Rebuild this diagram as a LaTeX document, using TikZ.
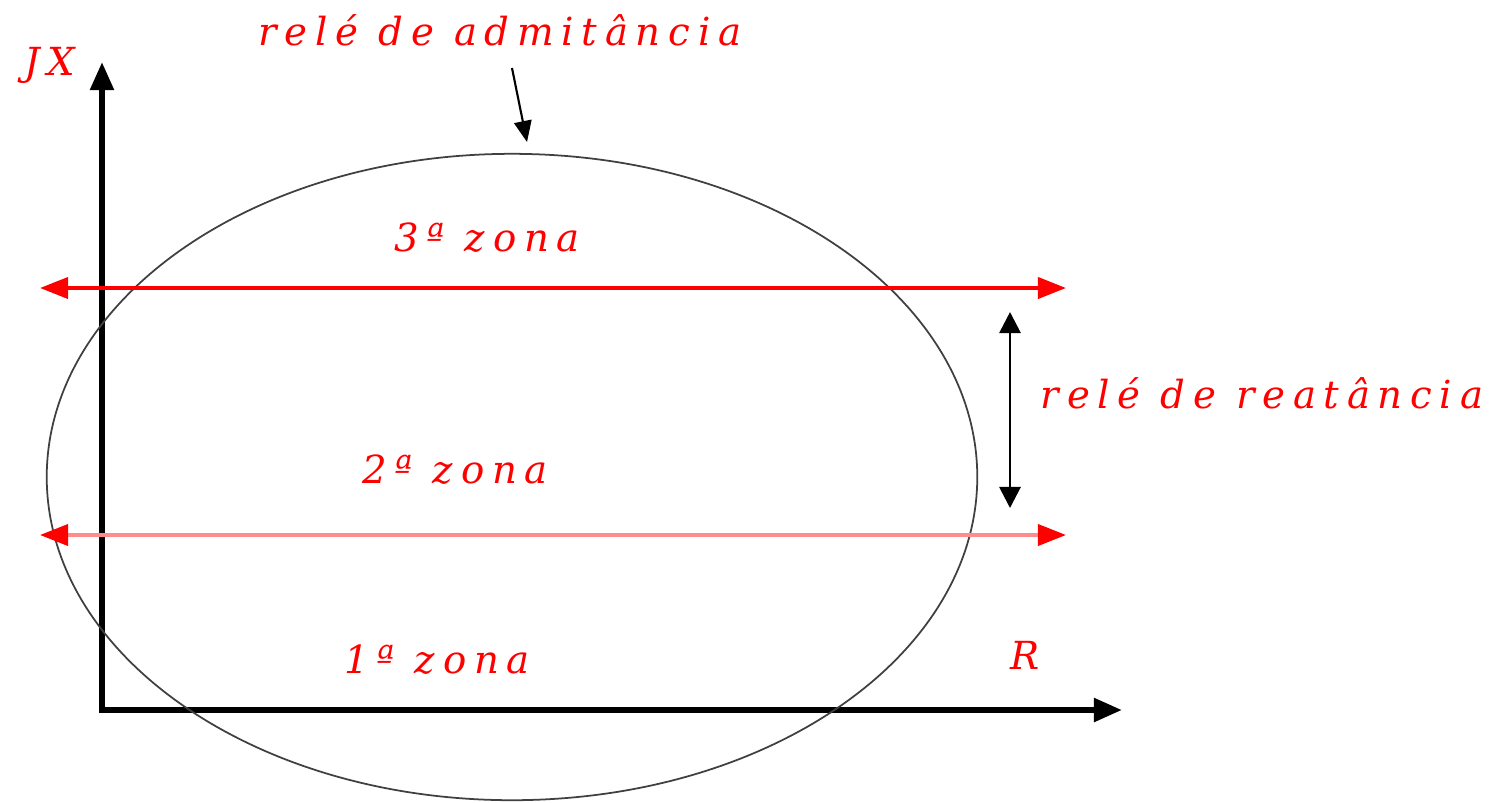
\documentclass[tikz,border=0pt]{standalone}
\usepackage{fontspec}
\newfontfamily\relayfont[LetterSpace=20]{DejaVu Serif}
\usepackage{tikz}
\usetikzlibrary{shapes.geometric, arrows.meta, positioning}
\tikzset{
  axis/.style={
    line width=1.7pt, black, line join=miter,
    {Triangle[length=8pt,width=6.5pt]}-{Triangle[length=8pt,width=6.5pt]}
  },
  zoneline/.style={
    line width=1.1pt,
    {Triangle[length=8pt,width=6pt,color=red]}-{Triangle[length=8pt,width=6pt,color=red]}
  },
  pointer/.style={line width=0.6pt, black, -{Triangle[length=6pt,width=5pt]}},
  span/.style={line width=0.8pt, black, {Triangle[length=6pt,width=6pt]}-{Triangle[length=6pt,width=6pt]}},
  relaylbl/.style={text=red, inner sep=0pt, font=\relayfont\itshape\fontsize{11}{13}\selectfont},
}

\begin{document}
\begin{tikzpicture}[x=0.01cm, y=-0.01cm]
  \useasboundingbox (0,0) rectangle (1491,802);

  % eixos R-X
  \coordinate (O)    at (102,710);
  \coordinate (ytip) at (102,62);
  \coordinate (xtip) at (1122,710);
  \draw [axis] (ytip) -- (O) -- (xtip);

  % circulo do rele de admitancia
  \node (adm) [ellipse, draw=black!75, line width=0.5pt,
               minimum width=9.3cm, minimum height=6.46cm] at (512,477) {};

  % retas do rele de reatancia
  \coordinate (z3l) at (40,288);
  \coordinate (z3r) at (1066,288);
  \coordinate (z2l) at (40,535);
  \coordinate (z2r) at (1066,535);
  \draw [zoneline, red]    (z3l) -- (z3r);
  \draw [zoneline, red!45] (z2l) -- (z2r);

  \node (admlbl)  [relaylbl] at (500,30)   {relé de admitância};
  \node (jx)      [relaylbl] at (50,65)    {JX};
  \node (z3)      [relaylbl] at (487,238)  {3ª zona};
  \node (z2)      [relaylbl] at (455,470)  {2ª zona};
  \node (z1)      [relaylbl] at (437,660)  {1ª zona};
  \node (rlbl)    [relaylbl] at (1025,655) {R};
  \node (reatlbl) [relaylbl] at (1262,393) {relé de reatância};

  \coordinate (ptrs) at (512,68);
  \coordinate (ptre) at (527,142);
  \draw [pointer] (ptrs) -- (ptre);

  \coordinate (spant) at (1010,312);
  \coordinate (spanb) at (1010,508);
  \draw [span] (spant) -- (spanb);
\end{tikzpicture}
\end{document}
